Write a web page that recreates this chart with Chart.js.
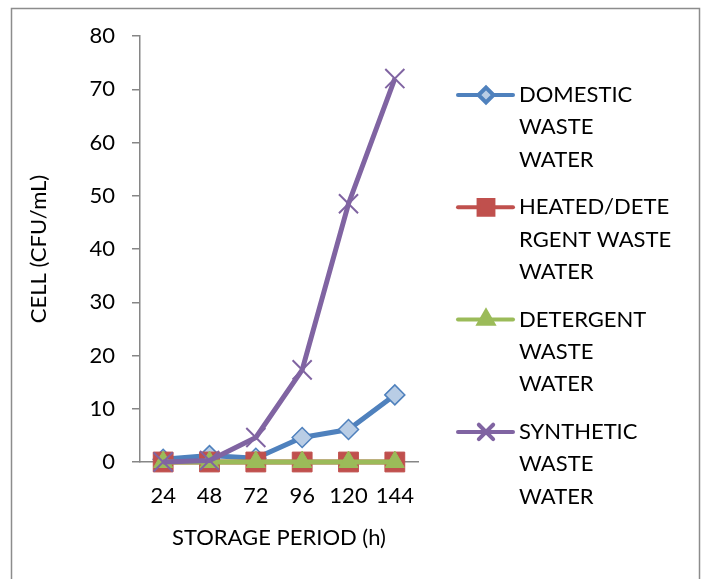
<!DOCTYPE html>
<html>
<head>
  <script src="https://cdn.jsdelivr.net/npm/chart.js"></script>
  <style>
    html, body { margin: 0; padding: 0; background: #fff; }
    #wrap { width: 705px; height: 579px; }
  </style>
</head>
<body>
  <div id="wrap">
    <canvas id="chart" width="705" height="579"></canvas>
  </div>

  <script>
    const periods = ['24', '48', '72', '96', '120', '144']
    const domestic = [0.5, 1.2, 0.7, 4.6, 6.1, 12.6]
    const heatedDetergent = [0, 0, 0, 0, 0, 0]
    const detergent = [0, 0, 0, 0, 0, 0]
    const synthetic = [0, 0.3, 4.6, 17.3, 48.5, 72]
    const legendLines = [
      ['DOMESTIC', 'WASTE', 'WATER'],
      ['HEATED/DETE', 'RGENT WASTE', 'WATER'],
      ['DETERGENT', 'WASTE', 'WATER'],
      ['SYNTHETIC', 'WASTE', 'WATER']
    ]

    const FONT = 'Lato, "Open Sans", sans-serif'
    const AXIS = '#868686'

    // outer frame + wrapped legend drawn by hand (Chart.js legend can't wrap)
    const framePlugin = {
      id: 'frame',
      beforeDraw(chart) {
        const ctx = chart.ctx
        ctx.save()
        ctx.strokeStyle = '#8c8c8c'
        ctx.lineWidth = 1.5
        ctx.strokeRect(11.5, 8.5, 688, 600)
        ctx.restore()
      },
      afterDraw(chart) {
        const ctx = chart.ctx
        ctx.save()
        chart.data.datasets.forEach((ds, i) => {
          const y0 = 95 + i * 112.3
          ctx.strokeStyle = ds.borderColor
          ctx.lineWidth = 4
          ctx.lineCap = 'round'
          ctx.beginPath()
          ctx.moveTo(458, y0)
          ctx.lineTo(513, y0)
          ctx.stroke()
          ctx.fillStyle = ds.pointBackgroundColor
          ctx.strokeStyle = ds.pointBorderColor
          Chart.helpers.drawPoint(ctx, {
            pointStyle: ds.pointStyle,
            radius: ds.pointRadius * 0.75,
            borderWidth: ds.pointBorderWidth,
            rotation: 0
          }, 486, y0)
          ctx.fillStyle = '#000'
          ctx.font = '22px ' + FONT
          ctx.textBaseline = 'middle'
          ctx.textAlign = 'left'
          legendLines[i].forEach((t, k) => {
            ctx.fillText(t, 519, y0 + k * 32.3)
          })
        })
        ctx.restore()
      }
    }

    const common = { borderWidth: 5, clip: false }

    const ctx = document.getElementById('chart').getContext('2d')
    new Chart(ctx, {
      type: 'line',
      data: {
        labels: periods,
        datasets: [{
          ...common,
          label: 'DOMESTIC WASTE WATER',
          data: domestic,
          borderColor: '#4F81BD',
          pointStyle: 'rectRot',
          pointRadius: 10,
          pointBackgroundColor: '#B9CDE5',
          pointBorderColor: '#4F81BD',
          pointBorderWidth: 1.5,
          order: 4
        }, {
          ...common,
          label: 'HEATED/DETERGENT WASTE WATER',
          data: heatedDetergent,
          borderColor: '#C0504D',
          pointStyle: 'rect',
          pointRadius: 14,
          pointBackgroundColor: '#C0504D',
          pointBorderColor: '#C0504D',
          pointBorderWidth: 1,
          order: 3
        }, {
          ...common,
          label: 'DETERGENT WASTE WATER',
          data: detergent,
          borderColor: '#9BBB59',
          pointStyle: 'triangle',
          pointRadius: 11,
          pointBackgroundColor: '#9BBB59',
          pointBorderColor: '#9BBB59',
          pointBorderWidth: 1,
          order: 2
        }, {
          ...common,
          label: 'SYNTHETIC WASTE WATER',
          data: synthetic,
          borderColor: '#8064A2',
          pointStyle: 'crossRot',
          pointRadius: 13.5,
          pointBackgroundColor: '#8064A2',
          pointBorderColor: '#8064A2',
          pointBorderWidth: 2,
          order: 1
        }]
      },
      options: {
        responsive: false,
        animation: false,
        layout: { padding: { top: 36, right: 287, bottom: 28, left: 26 } },
        plugins: {
          legend: { display: false },
          tooltip: { enabled: false }
        },
        scales: {
          x: {
            offset: true,
            grid: { display: false },
            border: { color: AXIS, width: 1.5 },
            ticks: { color: '#000', font: { family: FONT, size: 22 }, padding: 13 },
            title: {
              display: true,
              text: 'STORAGE PERIOD (h)',
              color: '#000',
              font: { family: FONT, size: 22 },
              padding: { top: 8, bottom: 0 }
            },
            afterFit(scale) { scale.height = 89 }
          },
          y: {
            min: 0,
            max: 80,
            grid: { drawOnChartArea: false, drawTicks: true, tickLength: 8, color: AXIS, lineWidth: 1.5 },
            border: { color: AXIS, width: 1.5 },
            ticks: { stepSize: 10, color: '#000', font: { family: FONT, size: 22 }, padding: 17 },
            title: {
              display: true,
              text: 'CELL (CFU/mL)',
              color: '#000',
              font: { family: FONT, size: 22 },
              padding: { top: 0, bottom: 6 }
            },
            afterFit(scale) { scale.width = 114 }
          }
        }
      },
      plugins: [framePlugin]
    })
  </script>
</body>
</html>
